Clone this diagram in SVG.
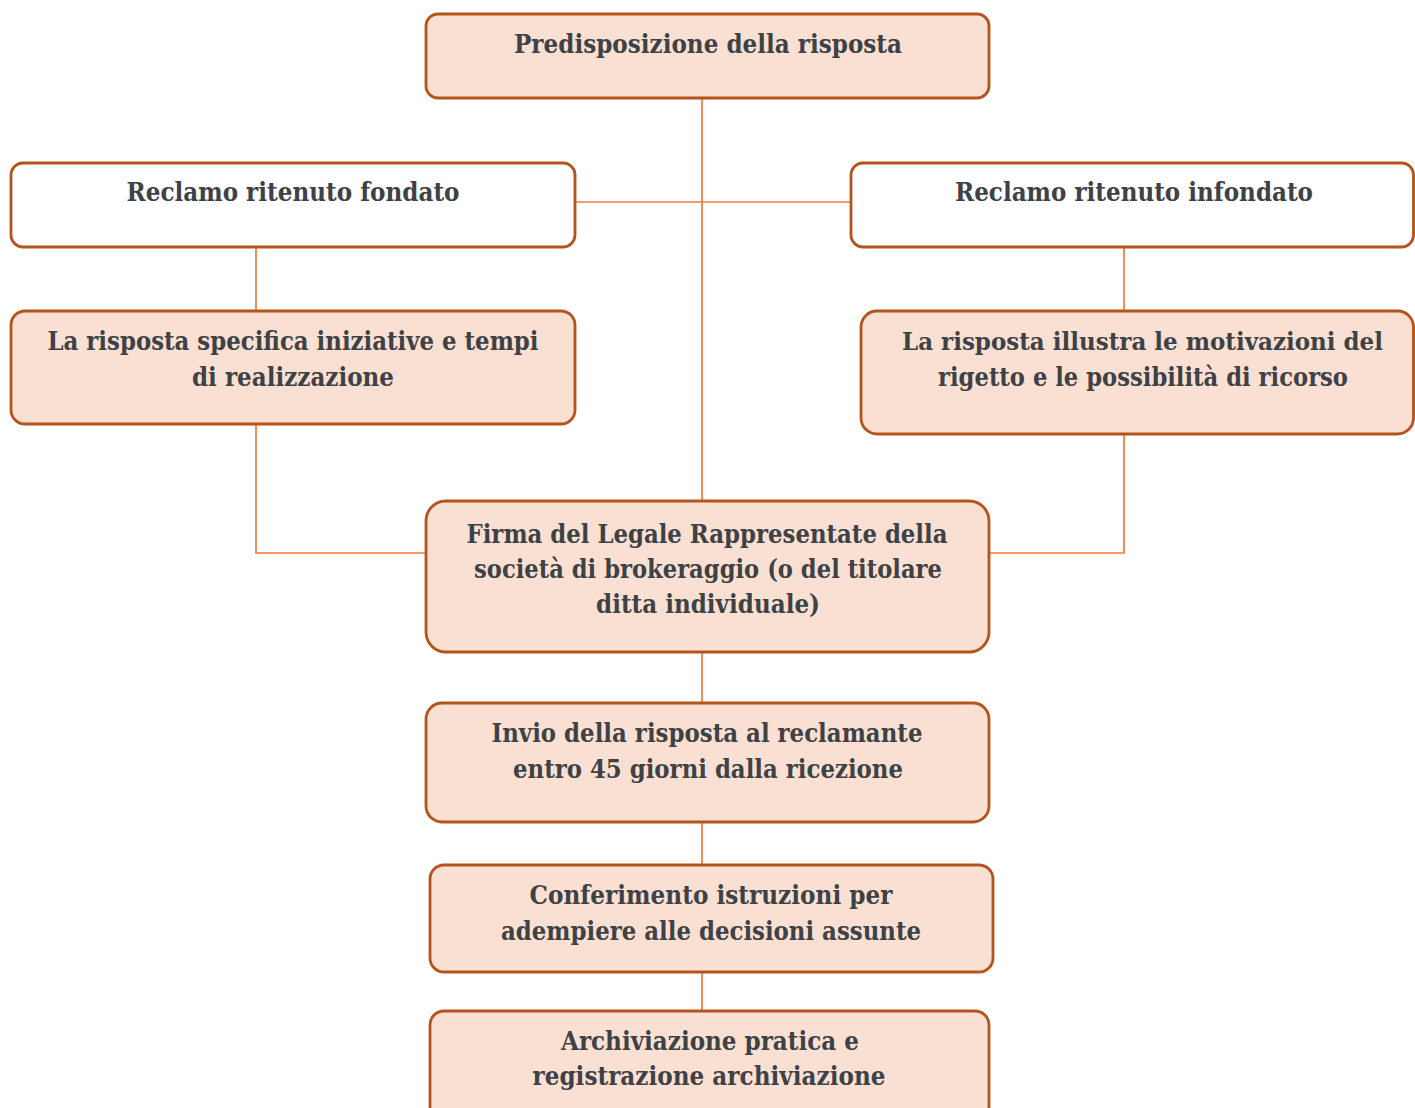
<svg xmlns="http://www.w3.org/2000/svg" width="1415" height="1108" viewBox="0 0 1415 1108">
<style>
.box{fill:#FAE0D2;stroke:#B4541C;stroke-width:2.8}
.wbox{fill:#FFFFFF;stroke:#B4541C;stroke-width:2.8}
.t{font-family:"DejaVu Serif","Liberation Serif",serif;font-weight:bold;font-size:25.5px;fill:#3E4246;text-anchor:middle}
.c{fill:none;stroke:#F07A38;stroke-width:1.7}
</style>
<rect width="1415" height="1108" fill="#FFFFFF"/>
<g id="connectors">
<path class="c" d="M702 98 V501"/>
<path class="c" d="M575 202 H851"/>
<path class="c" d="M256 247 V311"/>
<path class="c" d="M256 424 V553 H426"/>
<path class="c" d="M1124 247 V311"/>
<path class="c" d="M1124 434 V553 H989"/>
<path class="c" d="M702 652 V703"/>
<path class="c" d="M702 822 V865"/>
<path class="c" d="M702 972 V1011"/>
</g>
<g id="n1">
<rect class="box" x="426" y="14" width="563" height="84" rx="12"/>
<text class="t" x="708" y="53" textLength="388" lengthAdjust="spacingAndGlyphs">Predisposizione della risposta</text>
</g>
<g id="n2">
<rect class="wbox" x="11" y="163" width="564" height="84" rx="12"/>
<text class="t" x="293" y="201" textLength="333" lengthAdjust="spacingAndGlyphs">Reclamo ritenuto fondato</text>
</g>
<g id="n3">
<rect class="wbox" x="851" y="163" width="562.5" height="84" rx="12"/>
<text class="t" x="1134" y="201" textLength="358" lengthAdjust="spacingAndGlyphs">Reclamo ritenuto infondato</text>
</g>
<g id="n4">
<rect class="box" x="11" y="311" width="564" height="113" rx="14"/>
<text class="t" x="293" y="350" textLength="491" lengthAdjust="spacingAndGlyphs">La risposta specifica iniziative e tempi</text>
<text class="t" x="293" y="386" textLength="202" lengthAdjust="spacingAndGlyphs">di realizzazione</text>
</g>
<g id="n5">
<rect class="box" x="861" y="311" width="552.5" height="123" rx="16"/>
<text class="t" x="902" y="350" style="text-anchor:start;font-size:24.5px" textLength="481" lengthAdjust="spacingAndGlyphs">La risposta illustra le motivazioni del</text>
<text class="t" x="1143" y="386" textLength="410" lengthAdjust="spacingAndGlyphs">rigetto e le possibilità di ricorso</text>
</g>
<g id="n6">
<rect class="box" x="426" y="501" width="563" height="151" rx="20"/>
<text class="t" x="707" y="543" textLength="481" lengthAdjust="spacingAndGlyphs">Firma del Legale Rappresentate della</text>
<text class="t" x="708" y="578" textLength="468" lengthAdjust="spacingAndGlyphs">società di brokeraggio (o del titolare</text>
<text class="t" x="708" y="613" textLength="224" lengthAdjust="spacingAndGlyphs">ditta individuale)</text>
</g>
<g id="n7">
<rect class="box" x="426" y="703" width="563" height="119" rx="16"/>
<text class="t" x="707" y="742" textLength="431" lengthAdjust="spacingAndGlyphs">Invio della risposta al reclamante</text>
<text class="t" x="708" y="778" textLength="390" lengthAdjust="spacingAndGlyphs">entro 45 giorni dalla ricezione</text>
</g>
<g id="n8">
<rect class="box" x="430" y="865" width="563" height="107" rx="14"/>
<text class="t" x="711" y="904" textLength="363" lengthAdjust="spacingAndGlyphs">Conferimento istruzioni per</text>
<text class="t" x="711" y="940" textLength="420" lengthAdjust="spacingAndGlyphs">adempiere alle decisioni assunte</text>
</g>
<g id="n9">
<rect class="box" x="430" y="1011" width="559" height="110" rx="14"/>
<text class="t" x="710" y="1050" textLength="298" lengthAdjust="spacingAndGlyphs">Archiviazione pratica e</text>
<text class="t" x="709" y="1085" textLength="353" lengthAdjust="spacingAndGlyphs">registrazione archiviazione</text>
</g>
</svg>
